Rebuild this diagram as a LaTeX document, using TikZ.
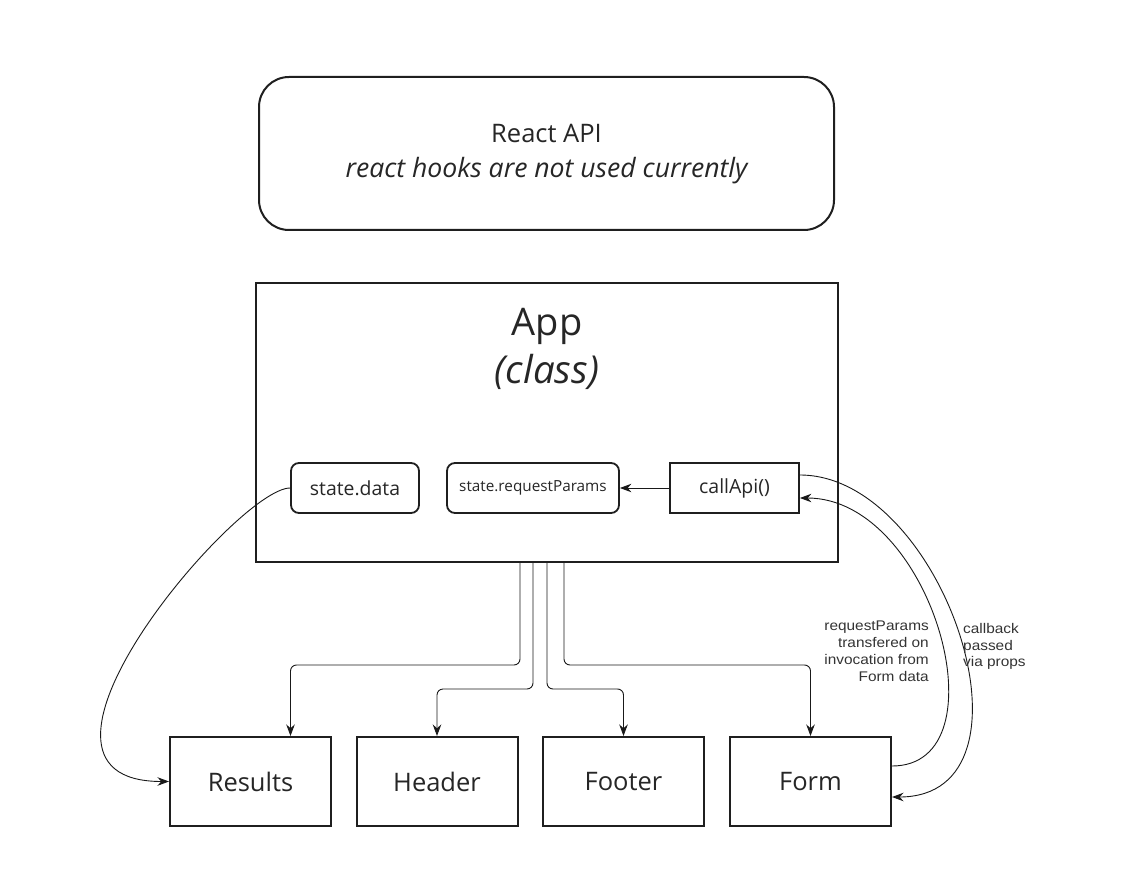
\documentclass[tikz,border=0pt]{standalone}
\usepackage{fontspec}
\setmainfont{Open Sans}
\newfontfamily\labfont[FakeStretch=1.1]{Liberation Sans}
\usetikzlibrary{arrows.meta,calc}
\begin{document}
\begin{tikzpicture}[x=1pt,y=-1pt,
  bigbox/.style={draw=black!88, line width=2pt, minimum width=#1},
  smallbox/.style={draw=black!88, line width=1.8pt, minimum width=#1, minimum height=50pt, inner sep=0pt, text=black!85},
  bottombox/.style={draw=black!88, line width=2pt, minimum width=161pt, minimum height=89pt, inner sep=0pt, text=black!85, font=\fontsize{25.5}{30}\selectfont},
  txt/.style={inner sep=0pt, text=black!85},
  arr/.style={-{Stealth[length=11.5pt,width=8.5pt]}, line width=0.9pt, draw=black!90},
  lab/.style={inner sep=0pt, text=black!80, font=\labfont\fontsize{14}{16.8}\selectfont}
]
\useasboundingbox (0,0) rectangle (1129,885);
% React API
\node[bigbox=575pt, minimum height=153pt, rounded corners=30pt] (react) at (546.5,153.5) {};
\node[txt, anchor=base, font=\fontsize{25.5}{30}\selectfont] (reacttitle) at (546.5,143) {React API};
\node[txt, anchor=base, font=\fontsize{26.6}{30}\selectfont\itshape] (reactsub) at (546.5,178) {react hooks are not used currently};
% App
\node[bigbox=582pt, minimum height=279pt] (app) at (547,422.5) {};
\node[txt, anchor=base, font=\fontsize{38}{44}\selectfont] (apptitle) at (547,335) {App};
\node[txt, anchor=base, font=\fontsize{38.5}{44}\selectfont\itshape] (appsub) at (547,383) {(class)};
% inner boxes
\node[smallbox=128pt, rounded corners=8pt, font=\fontsize{19.4}{23}\selectfont] (sd) at (355,488) {state.data};
\node[smallbox=172pt, rounded corners=8pt, font=\fontsize{15.3}{18}\selectfont] (srp) at (533,488) {state.requestParams};
\node[smallbox=129pt, font=\fontsize{19.5}{23}\selectfont] (ca) at (734.5,488) {callApi()};
% bottom boxes
\node[bottombox] (res) at (250.5,781.5) {Results};
\node[bottombox] (hdr) at (437,781.5) {Header};
\node[bottombox] (ftr) at (623.5,781.5) {Footer};
\node[bottombox] (frm) at (810.5,781.5) {Form};
% connectors
\draw[arr] (ca.west) -- (srp.east);
\draw[arr, rounded corners=6pt] ([xshift=-27pt]app.south) -- ++(0,102) -| ([xshift=40pt]res.north);
\draw[arr, rounded corners=6pt] ([xshift=-14pt]app.south) -- ++(0,126) -| (hdr.north);
\draw[arr, rounded corners=6pt] (app.south) -- ++(0,126) -| (ftr.north);
\draw[arr, rounded corners=6pt] ([xshift=17pt]app.south) -- ++(0,102) -| (frm.north);
\draw[arr] (sd.west) .. controls +(-53,0) and +(-182,0) .. (res.west);
\draw[arr] ($(frm.east)+(0,-15.5)$) .. controls +(114,0) and +(133,0) .. ($(ca.east)+(0,10)$);
\draw[arr] ($(ca.east)+(0,-13)$) .. controls +(145,0) and +(157,0) .. ($(frm.east)+(0,15.5)$);
% labels
\node[lab, anchor=north east, align=right] (reqlab) at (929,621) {requestParams\\transfered on\\invocation from\\Form data};
\node[lab, anchor=north west, align=left] (cblab) at (963,623) {callback\\passed\\via props};
\end{tikzpicture}
\end{document}
